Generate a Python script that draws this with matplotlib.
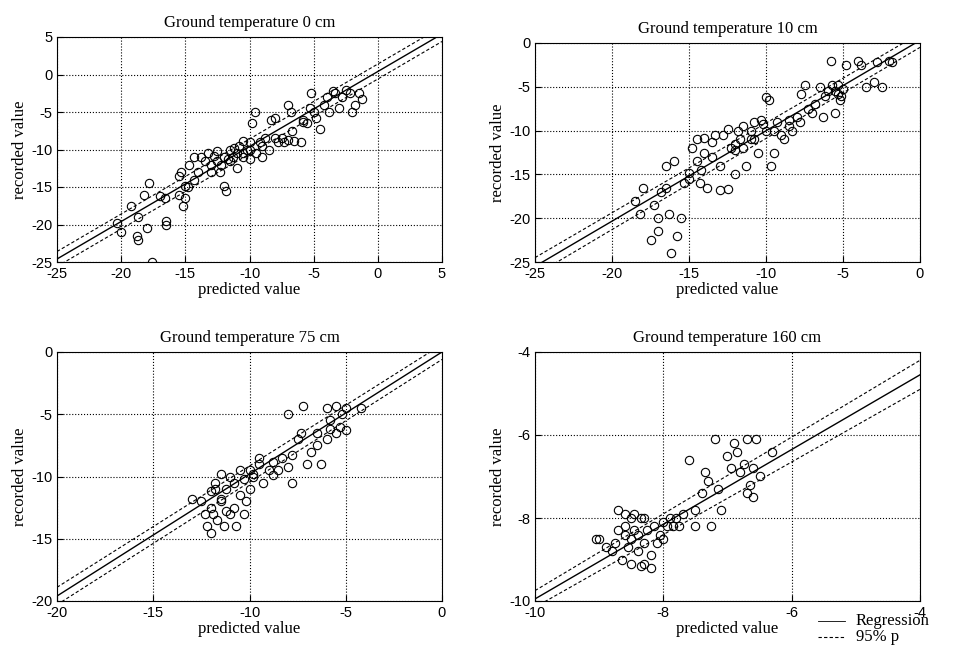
import matplotlib.pyplot as plt
import numpy as np
from matplotlib.lines import Line2D

plt.rcParams['axes.unicode_minus'] = False

# panel data (predicted, recorded)
p0 = [(-20.3,-19.8),(-20,-21),(-19.2,-17.5),(-18.7,-19),(-18.8,-21.5),(-18.7,-22),(-18.2,-16),(-17.8,-14.5),(-18,-20.5),(-17.6,-25),(-17,-16.2),(-16.6,-16.5),(-16.5,-19.5),(-16.5,-20),(-15.5,-13.5),(-15.3,-13),(-15.5,-16),(-15.2,-17.5),(-15,-16.5),(-15,-14.8),(-14.8,-15),(-14.7,-12),(-14.3,-11),(-14.3,-14),(-14,-13),(-13.8,-11),(-13.5,-11.5),(-13.2,-10.5),(-13,-12),(-12.8,-10.8),(-12.5,-11.5),(-12.3,-13),(-12,-11),(-12,-14.8),(-11.8,-15.5),(-11.7,-11.2),(-11.5,-10),(-11.3,-11),(-11,-12.5),(-11,-10.5),(-10.8,-9.5),(-10.5,-11),(-10.5,-8.8),(-10.2,-10),(-10,-9),(-10,-11.2),(-9.8,-6.5),(-9.6,-5),(-9.5,-10.5),(-9.2,-9),(-9,-11),(-8.8,-8.5),(-8.5,-10),(-8.3,-6),(-8,-5.8),(-7.8,-9),(-7.5,-8.5),(-7.3,-9),(-7,-4),(-6.8,-5),(-6.7,-7.5),(-6.5,-8.8),(-6,-9),(-5.8,-6),(-5.5,-6.5),(-5.3,-4.5),(-5.2,-2.5),(-5,-5),(-4.8,-5.8),(-4.5,-7.3),(-4.2,-4),(-4,-3),(-3.5,-2.2),(-3.3,-2.5),(-3,-4.5),(-2.8,-3),(-2.5,-2),(-2.2,-2.5),(-2,-5),(-1.8,-4),(-1.5,-2.5),(-1.2,-3.2),(-10.5,-10.5),(-11.5,-11.5),(-12.5,-10.2),(-13,-13),(-9,-9.5),(-10,-10),(-11.2,-9.8),(-12.2,-12),(-7,-8.7),(-8,-8.5),(-3.8,-5),(-5.8,-6.3)]
p1 = [(-18.5,-18),(-18.2,-19.5),(-18,-16.5),(-17.5,-22.5),(-17.3,-18.5),(-17,-20),(-16.8,-17),(-16.5,-16.5),(-16.5,-14),(-16.3,-19.5),(-16.2,-24),(-16,-13.5),(-15.8,-22),(-15.5,-20),(-15.3,-16),(-15,-15.5),(-14.8,-12),(-14.5,-11),(-14.5,-13.5),(-14.3,-16),(-14,-12.5),(-14,-10.8),(-13.8,-16.5),(-13.5,-13),(-13.3,-10.5),(-13,-14),(-13,-16.8),(-12.8,-10.5),(-12.5,-16.7),(-12.3,-12),(-12,-11.5),(-12,-15),(-11.8,-10),(-11.5,-12),(-11.5,-9.5),(-11.3,-14),(-11,-11),(-11,-10),(-10.8,-9),(-10.5,-12.5),(-10.3,-8.8),(-10,-10),(-10,-6.2),(-9.8,-6.5),(-9.7,-14),(-9.5,-12.5),(-9.3,-9),(-9,-10.5),(-8.8,-11),(-8.5,-9.5),(-8.3,-10),(-8,-8.5),(-7.8,-9),(-7.7,-5.8),(-7.5,-4.8),(-7.3,-7.5),(-7,-8),(-6.5,-5),(-6.3,-8.5),(-6,-5.5),(-5.8,-2),(-5.7,-4.8),(-5.5,-5.5),(-5.5,-8),(-5.3,-4.8),(-5.2,-6.5),(-5,-5.2),(-4.8,-2.5),(-4,-2),(-3.8,-2.5),(-3.5,-5),(-3,-4.5),(-2.8,-2.2),(-2.5,-5),(-2,-2),(-1.8,-2.2),(-12.5,-9.8),(-11.7,-11),(-10.8,-11),(-9.5,-10),(-8.5,-8.8),(-6.8,-7),(-6.2,-6),(-5.3,-5.8),(-5.1,-6),(-13.5,-11.3),(-14.2,-14.5),(-15,-14.8),(-17,-21.5),(-12,-12.2),(-10.2,-9.3)]
p2 = [(-13,-11.8),(-12.5,-12),(-12.3,-13),(-12.2,-14),(-12,-14.5),(-12,-12.5),(-11.8,-11),(-11.8,-10.5),(-11.7,-13.5),(-11.5,-9.8),(-11.5,-12),(-11.3,-14),(-11.2,-11),(-11,-13),(-11,-10),(-10.8,-12.5),(-10.7,-14),(-10.5,-11.5),(-10.5,-9.5),(-10.3,-13),(-10.2,-12),(-10,-11),(-10,-9.5),(-9.8,-10),(-9.5,-9),(-9.3,-10.5),(-9,-9.5),(-8.8,-8.8),(-8.5,-9.5),(-8.3,-8.5),(-8,-9.2),(-8,-5),(-7.8,-10.5),(-7.5,-7),(-7.3,-6.5),(-7.2,-4.3),(-7,-9),(-6.8,-8),(-6.5,-6.5),(-6.3,-9),(-6,-7),(-6,-4.5),(-5.8,-5.5),(-5.5,-6.5),(-5.5,-4.3),(-5.3,-6),(-5.2,-5),(-5,-6.3),(-5,-4.5),(-4.2,-4.5),(-11.5,-11.8),(-10.8,-10.5),(-9.8,-9.8),(-11.2,-12.8),(-12,-11.2),(-8.8,-9.9),(-7.8,-8.3),(-6.5,-7.5),(-5.8,-6.2),(-10.3,-10.2),(-9.5,-8.5),(-11.9,-13)]
p3 = [(-9.05,-8.5),(-9.0,-8.5),(-8.8,-8.8),(-8.75,-8.6),(-8.7,-7.8),(-8.7,-8.3),(-8.65,-9),(-8.6,-8.2),(-8.6,-7.9),(-8.55,-8.7),(-8.5,-8.5),(-8.5,-9.1),(-8.45,-7.9),(-8.4,-8.4),(-8.4,-8.8),(-8.35,-8),(-8.3,-8.6),(-8.3,-9.1),(-8.25,-8.3),(-8.2,-8.9),(-8.2,-9.2),(-8.15,-8.2),(-8.1,-8.6),(-8.05,-8.4),(-8,-8.1),(-8,-8.5),(-7.95,-8.2),(-7.9,-8.0),(-7.85,-8.2),(-7.8,-8),(-7.75,-8.2),(-7.7,-7.9),(-7.6,-6.6),(-7.5,-7.8),(-7.5,-8.2),(-7.4,-7.4),(-7.35,-6.9),(-7.3,-7.1),(-7.25,-8.2),(-7.2,-6.1),(-7.15,-7.3),(-7.1,-7.8),(-7.0,-6.5),(-6.95,-6.8),(-6.9,-6.2),(-6.85,-6.4),(-6.8,-6.9),(-6.75,-6.7),(-6.7,-6.1),(-6.7,-7.4),(-6.65,-7.2),(-6.6,-6.8),(-6.6,-7.5),(-6.55,-6.1),(-6.5,-7.0),(-6.3,-6.4),(-8.6,-8.4),(-8.45,-8.3),(-8.3,-8.0),(-8.5,-8.0),(-8.9,-8.7),(-8.35,-9.15)]

titles = ['Ground temperature 0 cm', 'Ground temperature 10 cm',
          'Ground temperature 75 cm', 'Ground temperature 160 cm']
xlims = [(-25, 5), (-25, 0), (-20, 0), (-10, -4)]
ylims = [(-25, 5), (-25, 0), (-20, 0), (-10, -4)]
xticks = [range(-25, 6, 5), range(-25, 1, 5), range(-20, 1, 5), range(-10, -3, 2)]
yticks = [range(-25, 6, 5), range(-25, 1, 5), range(-20, 1, 5), range(-10, -3, 2)]
# regression line (x0,y0,x1,y1) and dashed bands at ends
reg = [(-25, -24.6, 5, 5.4), (-25, -25.5, 0, 0.3), (-20, -19.6, 0, 0.0), (-10, -9.95, -4, -4.55)]
band = [(1.0, 1.0), (1.0, 0.8), (0.7, 0.6), (0.2, 0.35)]
data = [p0, p1, p2, p3]

serif = 'Liberation Serif'
sans = 'Liberation Sans'
fig = plt.figure(figsize=(9.61, 6.45), dpi=100)
rects = [(57, 37, 225), (535, 43, 219), (57, 352, 249), (535, 352, 249)]
for i in range(4):
    x0, y0, h = rects[i]
    ax = fig.add_axes([x0/961, 1-(y0+h)/645, 385/961, h/645])
    a, b, c, d = reg[i]
    w0, w1 = band[i]
    ax.plot([a, c], [b, d], 'k-', lw=1)
    ax.plot([a, c], [b+w0, d+w1], 'k--', lw=0.8, dashes=(3, 2))
    ax.plot([a, c], [b-w0, d-w1], 'k--', lw=0.8, dashes=(3, 2))
    xs = [p[0] for p in data[i]]
    ys = [p[1] for p in data[i]]
    ax.plot(xs, ys, 'o', mfc='none', mec='k', ms=6, mew=0.8)
    ax.set_xlim(xlims[i]); ax.set_ylim(ylims[i])
    ax.set_xticks(list(xticks[i])); ax.set_yticks(list(yticks[i]))
    ax.grid(True, ls=':', color='k', lw=0.8)
    ax.tick_params(direction='in', labelsize=10.5, length=4)
    for lab in ax.get_xticklabels() + ax.get_yticklabels():
        lab.set_fontfamily(sans)
    ax.set_title(titles[i], fontfamily=serif, fontsize=12, pad=7)
    ax.set_xlabel('predicted value', fontfamily=serif, fontsize=12, labelpad=1)
    ax.set_ylabel('recorded value', fontfamily=serif, fontsize=12, labelpad=2)

# legend
fig.add_artist(Line2D([818/961, 845/961], [1-621/645]*2, color='k', lw=0.6))
fig.add_artist(Line2D([818/961, 845/961], [1-637/645]*2, color='k', lw=0.8, ls='--', dashes=(3, 2)))
fig.text(856/961, 1-621/645, 'Regression', fontfamily=serif, fontsize=12, va='center')
fig.text(856/961, 1-637/645, '95% p', fontfamily=serif, fontsize=12, va='center')

fig.savefig('out.png', dpi=100)
